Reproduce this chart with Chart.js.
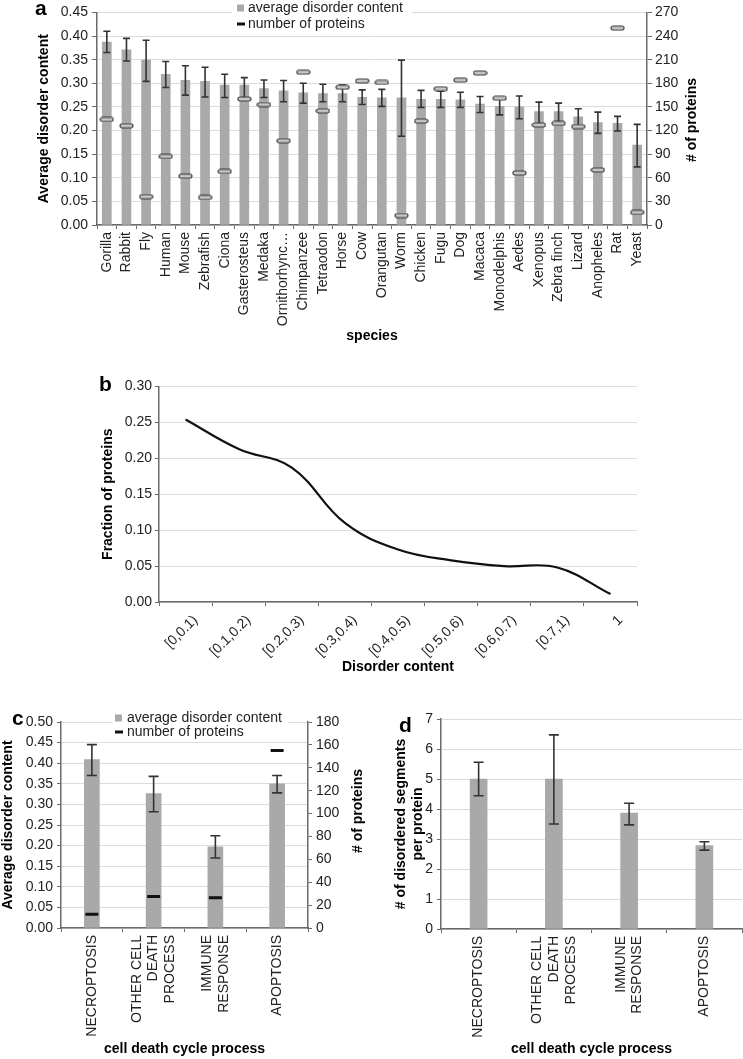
<!DOCTYPE html>
<html><head><meta charset="utf-8">
<script src="https://cdn.jsdelivr.net/npm/chart.js@4.4.1/dist/chart.umd.min.js"></script>
<style>
html,body{margin:0;padding:0;background:#fff;width:743px;height:1059px;overflow:hidden;position:relative;font-family:"Liberation Sans",Arial,sans-serif;}
canvas{position:absolute;}
.lbl{position:absolute;font-weight:bold;font-size:21px;color:#000;line-height:21px;}
</style></head><body>
<canvas id="ca" width="743" height="375" style="left:0;top:0"></canvas>
<canvas id="cb" width="743" height="305" style="left:0;top:375px"></canvas>
<canvas id="cc" width="370" height="379" style="left:0;top:680px"></canvas>
<canvas id="cd" width="373" height="379" style="left:370px;top:680px"></canvas>
<div class="lbl" style="left:35px;top:-3px">a</div>
<div class="lbl" style="left:99px;top:373px">b</div>
<div class="lbl" style="left:12px;top:707px">c</div>
<div class="lbl" style="left:399px;top:714px">d</div>
<script>
// ---------- Panel a data ----------
const species = ['Gorilla','Rabbit','Fly','Human','Mouse','Zebrafish','Ciona','Gasterosteus','Medaka','Ornithorhync\u2026','Chimpanzee','Tetraodon','Horse','Cow','Orangutan','Worm','Chicken','Fugu','Dog','Macaca','Monodelphis','Aedes','Xenopus','Zebra finch','Lizard','Anopheles','Rat','Yeast'];
const avgDisorder = [0.387,0.371,0.349,0.319,0.306,0.304,0.296,0.296,0.289,0.284,0.280,0.278,0.278,0.270,0.269,0.269,0.266,0.266,0.265,0.256,0.251,0.250,0.240,0.240,0.229,0.217,0.215,0.169];
const disorderLow = [0.365,0.347,0.304,0.291,0.275,0.271,0.270,0.268,0.270,0.261,0.258,0.261,0.261,0.255,0.251,0.188,0.249,0.249,0.249,0.238,0.233,0.225,0.209,0.213,0.208,0.194,0.199,0.123];
const disorderHigh = [0.410,0.395,0.391,0.346,0.337,0.334,0.319,0.312,0.307,0.306,0.300,0.298,0.296,0.286,0.287,0.349,0.285,0.283,0.281,0.272,0.269,0.273,0.260,0.258,0.246,0.239,0.230,0.213];
const proteinCount = [134,126,36,87,62,35,68,160,153,107,194,145,175,183,181,12,132,173,184,193,161,66,127,129,125,70,250,16];

// ---------- Panel b data ----------
const bins = ['[0,0.1)','[0.1,0.2)','[0.2,0.3)','[0.3,0.4)','[0.4,0.5)','[0.5,0.6)','[0.6,0.7)','[0.7,1)','1'];
const fraction = [0.254,0.213,0.187,0.110,0.073,0.058,0.050,0.048,0.011];

// ---------- Panel c / d data ----------
const processes = [['NECROPTOSIS'],['OTHER CELL','DEATH','PROCESS'],['IMMUNE','RESPONSE'],['APOPTOSIS']];
const processDisorder = [0.409,0.326,0.197,0.350];
const processDisorderLow = [0.370,0.282,0.170,0.328];
const processDisorderHigh = [0.445,0.368,0.224,0.370];
const processCount = [12,27.5,26.5,155];
const segments = [5.0,5.0,3.86,2.78];
const segmentsLow = [4.44,3.50,3.47,2.63];
const segmentsHigh = [5.56,6.47,4.19,2.91];

// ---------- common styling ----------
const FONT = '"Liberation Sans", Arial, Helvetica, sans-serif';
Chart.defaults.font.family = FONT;
Chart.defaults.font.size = 14;
Chart.defaults.color = '#222';
const BAR = '#a9a9a9';
const AXIS = '#6a6a6a';
const GRID = '#dcdcdc';

const errorBarPlugin = {
  id: 'errorBars',
  afterDatasetDraw(chart, args, opts) {
    const ds = chart.data.datasets[args.index];
    if (!ds.errLow) return;
    const meta = args.meta;
    const yScale = chart.scales[meta.yAxisID];
    const ctx = chart.ctx;
    const cap = opts.cap || 3.5;
    ctx.save();
    ctx.strokeStyle = opts.color || '#333';
    ctx.lineWidth = opts.width || 1.5;
    meta.data.forEach((el, i) => {
      const x = el.x;
      const yl = yScale.getPixelForValue(ds.errLow[i]);
      const yh = yScale.getPixelForValue(ds.errHigh[i]);
      ctx.beginPath();
      ctx.moveTo(x, yl); ctx.lineTo(x, yh);
      ctx.moveTo(x - cap, yl); ctx.lineTo(x + cap, yl);
      ctx.moveTo(x - cap, yh); ctx.lineTo(x + cap, yh);
      ctx.stroke();
    });
    ctx.restore();
  }
};

const boxLegendPlugin = {
  id: 'boxLegend',
  beforeDatasetsDraw(chart, args, opts) {
    if (opts.x === undefined) return;
    const ctx = chart.ctx;
    ctx.save();
    ctx.fillStyle = '#fff';
    ctx.fillRect(opts.bg[0], opts.bg[1], opts.bg[2], opts.bg[3]);
    ctx.font = '14px ' + FONT;
    ctx.textBaseline = 'middle';
    ctx.textAlign = 'left';
    chart.data.datasets.forEach((ds, i) => {
      const y = opts.y + i * opts.step;
      if (ds.type === 'bar') {
        ctx.fillStyle = ds.backgroundColor;
        ctx.fillRect(opts.x, y - 3.5, 7, 7);
      } else {
        ctx.fillStyle = '#111';
        ctx.fillRect(opts.x, y - 1.5, 8, 3);
      }
      ctx.fillStyle = '#222';
      ctx.fillText(ds.label, opts.x + opts.textGap, y);
    });
    ctx.restore();
  }
};

const sideTitlePlugin = {
  id: 'sideTitle',
  afterDraw(chart, args, opts) {
    if (!opts.text) return;
    const ctx = chart.ctx;
    ctx.save();
    ctx.translate(opts.x, opts.y);
    ctx.rotate(-Math.PI / 2);
    ctx.font = 'bold 14px ' + FONT;
    ctx.fillStyle = '#000';
    ctx.textAlign = 'center';
    ctx.textBaseline = 'middle';
    ctx.fillText(opts.text, 0, 0);
    ctx.restore();
  }
};

// centre multi-line rotated category labels on their tick
const centerLinesPlugin = {
  id: 'centerLines',
  beforeDraw(chart, args, opts) {
    if (!opts.enabled) return;
    const scale = chart.scales.x;
    const items = scale.getLabelItems();
    items.forEach(it => {
      if (it._centered) return;
      const n = Array.isArray(it.label) ? it.label.length : 1;
      const lh = it.font.lineHeight;
      it.options.translation[0] -= (n - 1) / 2 * lh;
      it._centered = true;
    });
  }
};
Chart.register(errorBarPlugin, boxLegendPlugin, sideTitlePlugin, centerLinesPlugin);

// marker for number of proteins (panel a)
const marker = document.createElement('canvas');
marker.width = 15; marker.height = 6;
(function(){
  const m = marker.getContext('2d');
  m.fillStyle = '#c6c6c6';
  m.strokeStyle = '#3a3a3a';
  m.lineWidth = 1.2;
  m.beginPath();
  m.roundRect(1, 1, 13, 4, 2);
  m.fill(); m.stroke();
})();

const titleFont = {weight: 'bold', size: 14};
const border = {color: AXIS, width: 1.5};
const fmt2 = v => Number(v).toFixed(2);

// ---------- Panel a ----------
new Chart(document.getElementById('ca'), {
  data: {
    labels: species,
    datasets: [
      {type: 'bar', label: 'average disorder content', data: avgDisorder, errLow: disorderLow, errHigh: disorderHigh,
       backgroundColor: BAR, barThickness: 9, yAxisID: 'y', order: 1},
      {type: 'line', label: 'number of proteins', data: proteinCount, yAxisID: 'y1', showLine: false,
       pointStyle: marker, pointRadius: 7, order: 0}
    ]
  },
  options: {
    responsive: false, animation: false,
    layout: {padding: {top: 12, left: 0, right: 0, bottom: 0}},
    plugins: {
      legend: {display: false}, tooltip: {enabled: false},
      errorBars: {cap: 3.5, width: 1.6, color: '#333'},
      boxLegend: {x: 237, y: 8, step: 16, textGap: 11, bg: [232, 0, 180, 31]},
      sideTitle: {text: '# of proteins', x: 692, y: 120}
    },
    scales: {
      x: {
        offset: true,
        grid: {offset: true, drawOnChartArea: false, tickColor: AXIS, tickLength: 4},
        border: border,
        ticks: {minRotation: 90, maxRotation: 90, autoSkip: false, padding: 3},
        title: {display: true, text: 'species', font: titleFont, color: '#000', padding: {top: 0, bottom: 30}},
        afterFit: s => { s.height = 150; }
      },
      y: {
        position: 'left', min: 0, max: 0.45,
        ticks: {stepSize: 0.05, callback: fmt2, padding: 4},
        grid: {color: GRID, tickColor: AXIS, tickLength: 5},
        border: border,
        title: {display: true, text: 'Average disorder content', font: titleFont, color: '#000', padding: {top: 36, bottom: 0}},
        afterFit: s => { s.width = 97; }
      },
      y1: {
        position: 'right', min: 0, max: 270,
        ticks: {stepSize: 30, padding: 3},
        grid: {drawOnChartArea: false, tickColor: AXIS, tickLength: 5},
        border: border,
        afterFit: s => { s.width = 96; }
      }
    }
  }
});

// ---------- Panel b ----------
new Chart(document.getElementById('cb'), {
  type: 'line',
  data: {
    labels: bins,
    datasets: [{label: 'Fraction of proteins', data: fraction, borderColor: '#111', borderWidth: 2.2,
      pointRadius: 0, tension: 0.4, fill: false}]
  },
  options: {
    responsive: false, animation: false,
    layout: {padding: {top: 9, left: 0, right: 106, bottom: 0}},
    plugins: {legend: {display: false}, tooltip: {enabled: false}},
    scales: {
      x: {
        offset: true,
        grid: {offset: true, drawOnChartArea: false, tickColor: AXIS, tickLength: 4},
        border: border,
        ticks: {minRotation: 45, maxRotation: 45, autoSkip: false, padding: 6, labelOffset: 10},
        title: {display: true, text: 'Disorder content', font: titleFont, color: '#000', padding: {top: 0, bottom: 4}},
        afterFit: s => { s.height = 78; }
      },
      y: {
        min: 0, max: 0.30,
        ticks: {stepSize: 0.05, callback: fmt2, padding: 3},
        grid: {color: GRID, tickColor: AXIS, tickLength: 4},
        border: border,
        title: {display: true, text: 'Fraction of proteins', font: titleFont, color: '#000', padding: {top: 100, bottom: 0}},
        afterFit: s => { s.width = 159; }
      }
    }
  }
});

// ---------- Panel c ----------
new Chart(document.getElementById('cc'), {
  data: {
    labels: processes,
    datasets: [
      {type: 'bar', label: 'average disorder content', data: processDisorder, errLow: processDisorderLow, errHigh: processDisorderHigh,
       backgroundColor: BAR, barThickness: 15, yAxisID: 'y', order: 1},
      {type: 'line', label: 'number of proteins', data: processCount, yAxisID: 'y1', showLine: false,
       pointStyle: 'line', pointRadius: 6.5, pointBorderWidth: 3, borderColor: '#111', order: 0}
    ]
  },
  options: {
    responsive: false, animation: false,
    layout: {padding: {top: 42, left: 0, right: 0, bottom: 0}},
    plugins: {
      legend: {display: false}, tooltip: {enabled: false},
      errorBars: {cap: 5, width: 1.6, color: '#333'},
      boxLegend: {x: 115, y: 38, step: 14, textGap: 12, bg: [112, 29, 176, 30]},
      sideTitle: {text: '# of proteins', x: 358, y: 131},
      centerLines: {enabled: true}
    },
    scales: {
      x: {
        offset: true,
        grid: {offset: true, drawOnChartArea: false, tickColor: AXIS, tickLength: 4},
        border: border,
        ticks: {minRotation: 90, maxRotation: 90, autoSkip: false, padding: 3},
        title: {display: true, text: 'cell death cycle process', font: titleFont, color: '#000', padding: {top: 0, bottom: 1}},
        afterFit: s => { s.height = 131; }
      },
      y: {
        position: 'left', min: 0, max: 0.5,
        ticks: {stepSize: 0.05, callback: fmt2, padding: 4},
        grid: {color: GRID, tickColor: AXIS, tickLength: 4},
        border: border,
        title: {display: true, text: 'Average disorder content', font: titleFont, color: '#000', padding: {top: 0, bottom: 0}},
        afterFit: s => { s.width = 61; }
      },
      y1: {
        position: 'right', min: 0, max: 180,
        ticks: {stepSize: 20, padding: 4},
        grid: {drawOnChartArea: false, tickColor: AXIS, tickLength: 4},
        border: border,
        afterFit: s => { s.width = 62; }
      }
    }
  }
});

// ---------- Panel d ----------
new Chart(document.getElementById('cd'), {
  data: {
    labels: processes,
    datasets: [
      {type: 'bar', label: '# of disordered segments per protein', data: segments, errLow: segmentsLow, errHigh: segmentsHigh,
       backgroundColor: BAR, barThickness: 17, order: 1}
    ]
  },
  options: {
    responsive: false, animation: false,
    layout: {padding: {top: 39, left: 0, right: 1, bottom: 0}},
    plugins: {
      legend: {display: false}, tooltip: {enabled: false},
      errorBars: {cap: 5, width: 1.6, color: '#333'},
      centerLines: {enabled: true}
    },
    scales: {
      x: {
        offset: true,
        grid: {offset: true, drawOnChartArea: false, tickColor: AXIS, tickLength: 4},
        border: border,
        ticks: {minRotation: 90, maxRotation: 90, autoSkip: false, padding: 3},
        title: {display: true, text: 'cell death cycle process', font: titleFont, color: '#000', padding: {top: 0, bottom: 1}},
        afterFit: s => { s.height = 130; }
      },
      y: {
        min: 0, max: 7,
        ticks: {stepSize: 1, padding: 4},
        grid: {color: GRID, tickColor: AXIS, tickLength: 4},
        border: border,
        title: {display: true, text: ['# of disordered segments', 'per protein'], font: {weight: 'bold', size: 14, lineHeight: 1.24}, color: '#000', padding: {top: 22, bottom: 0}},
        afterFit: s => { s.width = 71; }
      }
    }
  }
});
</script>
</body></html>
